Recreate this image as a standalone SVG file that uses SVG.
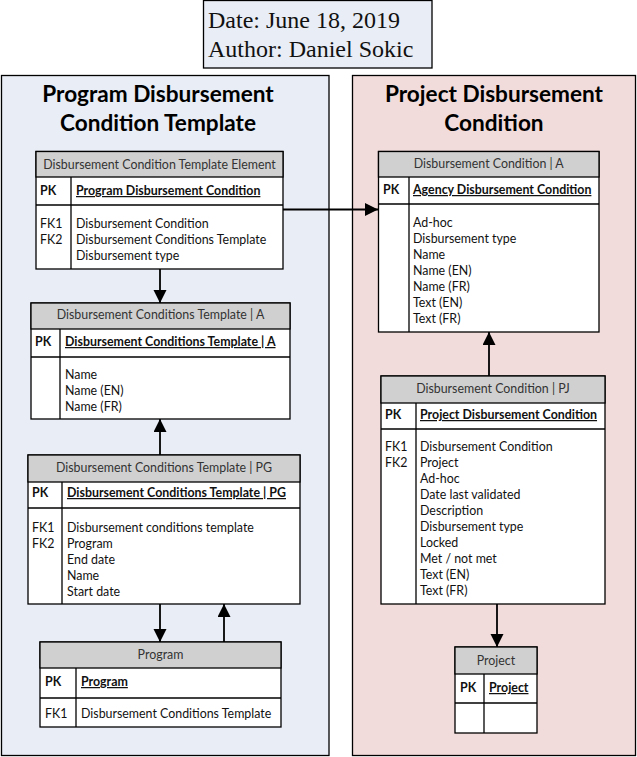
<svg xmlns="http://www.w3.org/2000/svg" width="637" height="757" viewBox="0 0 637 757">
<defs>
<style>
.panelL{fill:#e9edf5;stroke:#000;stroke-width:1.3}
.panelR{fill:#f2dcdb;stroke:#000;stroke-width:1.3}
.box{fill:#fff;stroke:#000;stroke-width:1.3}
.hdr{fill:#d0d0d0;stroke:#000;stroke-width:1.3}
.ln{stroke:#000;stroke-width:1.3;fill:none}
.t{font-family:"Lato","Liberation Sans",sans-serif;font-size:12.4px;fill:#111}
.h{text-anchor:middle;fill:#333}
.b{font-weight:bold}
.u{text-decoration:underline}
.title{font-family:"Lato","Liberation Sans",sans-serif;font-size:22.6px;font-weight:bold;text-anchor:middle;fill:#000}
.meta{font-family:"Liberation Serif","Times New Roman",serif;font-size:24px;fill:#111}
.conn{stroke:#000;stroke-width:1.8;fill:none;marker-end:url(#ah)}
</style>
<marker id="ah" markerUnits="userSpaceOnUse" markerWidth="14" markerHeight="14" refX="13" refY="6.5" orient="auto">
<path d="M0,0 L13,6.5 L0,13 z" fill="#000"/>
</marker>
</defs>

<g id="meta">
<rect x="203.5" y="0.5" width="228.5" height="67.5" fill="#e9edf5" stroke="#000" stroke-width="1.3"/>
<text class="meta" x="208" y="28">Date: June 18, 2019</text>
<text class="meta" x="208" y="57">Author: Daniel Sokic</text>
</g>

<g id="panel-program">
<rect class="panelL" x="1.5" y="75.5" width="327.5" height="680"/>
<text class="title" x="158" y="102">Program Disbursement</text>
<text class="title" x="158" y="131">Condition Template</text>
</g>

<g id="panel-project">
<rect class="panelR" x="352.5" y="75.5" width="283" height="680"/>
<text class="title" x="494" y="102">Project Disbursement</text>
<text class="title" x="494" y="131">Condition</text>
</g>

<g id="connectors">
<line class="conn" x1="160" y1="269" x2="160" y2="303"/>
<line class="conn" x1="160" y1="455" x2="160" y2="419"/>
<line class="conn" x1="160" y1="604" x2="160" y2="642"/>
<line class="conn" x1="224" y1="642" x2="224" y2="604"/>
<line class="conn" x1="283" y1="209.5" x2="378" y2="209.5"/>
<line class="conn" x1="489" y1="376" x2="489" y2="332"/>
<line class="conn" x1="497" y1="604" x2="497" y2="647"/>
</g>

<g id="e-dcte">
<rect class="box" x="36" y="151.5" width="247" height="117.5"/>
<rect class="hdr" x="36" y="151.5" width="247" height="25.5"/>
<line class="ln" x1="36" y1="205" x2="283" y2="205"/>
<line class="ln" x1="71" y1="177" x2="71" y2="269"/>
<text class="t h" x="159.5" y="169">Disbursement Condition Template Element</text>
<text class="t b" x="40" y="195">PK</text>
<text class="t b u" x="76" y="195">Program Disbursement Condition</text>
<text class="t" x="40" y="228">FK1</text>
<text class="t" x="40" y="244">FK2</text>
<text class="t" x="76" y="228">Disbursement Condition</text>
<text class="t" x="76" y="244">Disbursement Conditions Template</text>
<text class="t" x="76" y="260">Disbursement type</text>
</g>

<g id="e-dct-a">
<rect class="box" x="31" y="303" width="259" height="116"/>
<rect class="hdr" x="31" y="303" width="259" height="26"/>
<line class="ln" x1="31" y1="357" x2="290" y2="357"/>
<line class="ln" x1="60" y1="329" x2="60" y2="419"/>
<text class="t h" x="160.5" y="319">Disbursement Conditions Template | A</text>
<text class="t b" x="35" y="346">PK</text>
<text class="t b u" x="65" y="346">Disbursement Conditions Template | A</text>
<text class="t" x="65" y="379">Name</text>
<text class="t" x="65" y="395">Name (EN)</text>
<text class="t" x="65" y="411">Name (FR)</text>
</g>

<g id="e-dct-pg">
<rect class="box" x="28" y="455" width="272" height="149"/>
<rect class="hdr" x="28" y="455" width="272" height="27"/>
<line class="ln" x1="28" y1="508" x2="300" y2="508"/>
<line class="ln" x1="62" y1="482" x2="62" y2="604"/>
<text class="t h" x="164" y="472">Disbursement Conditions Template | PG</text>
<text class="t b" x="32" y="497">PK</text>
<text class="t b u" x="67" y="497">Disbursement Conditions Template | PG</text>
<text class="t" x="32" y="532">FK1</text>
<text class="t" x="32" y="548">FK2</text>
<text class="t" x="67" y="532">Disbursement conditions template</text>
<text class="t" x="67" y="548">Program</text>
<text class="t" x="67" y="564">End date</text>
<text class="t" x="67" y="580">Name</text>
<text class="t" x="67" y="596">Start date</text>
</g>

<g id="e-program">
<rect class="box" x="40" y="642" width="241" height="85"/>
<rect class="hdr" x="40" y="642" width="241" height="26"/>
<line class="ln" x1="40" y1="698" x2="281" y2="698"/>
<line class="ln" x1="76" y1="668" x2="76" y2="727"/>
<text class="t h" x="160.5" y="659">Program</text>
<text class="t b" x="45" y="686">PK</text>
<text class="t b u" x="81" y="686">Program</text>
<text class="t" x="45" y="718">FK1</text>
<text class="t" x="81" y="718">Disbursement Conditions Template</text>
</g>

<g id="e-dc-a">
<rect class="box" x="378.5" y="151.5" width="220.5" height="180.5"/>
<rect class="hdr" x="378.5" y="151.5" width="220.5" height="25.5"/>
<line class="ln" x1="378.5" y1="204" x2="599" y2="204"/>
<line class="ln" x1="409" y1="177" x2="409" y2="332"/>
<text class="t h" x="488.75" y="168">Disbursement Condition | A</text>
<text class="t b" x="383" y="194">PK</text>
<text class="t b u" x="413" y="194">Agency Disbursement Condition</text>
<text class="t" x="413" y="227">Ad-hoc</text>
<text class="t" x="413" y="243">Disbursement type</text>
<text class="t" x="413" y="259">Name</text>
<text class="t" x="413" y="275">Name (EN)</text>
<text class="t" x="413" y="291">Name (FR)</text>
<text class="t" x="413" y="307">Text (EN)</text>
<text class="t" x="413" y="323">Text (FR)</text>
</g>

<g id="e-dc-pj">
<rect class="box" x="381" y="376" width="224" height="228"/>
<rect class="hdr" x="381" y="376" width="224" height="27"/>
<line class="ln" x1="381" y1="429" x2="605" y2="429"/>
<line class="ln" x1="416" y1="403" x2="416" y2="604"/>
<text class="t h" x="493" y="393">Disbursement Condition | PJ</text>
<text class="t b" x="385" y="419">PK</text>
<text class="t b u" x="420" y="419">Project Disbursement Condition</text>
<text class="t" x="385" y="451">FK1</text>
<text class="t" x="385" y="467">FK2</text>
<text class="t" x="420" y="451">Disbursement Condition</text>
<text class="t" x="420" y="467">Project</text>
<text class="t" x="420" y="483">Ad-hoc</text>
<text class="t" x="420" y="499">Date last validated</text>
<text class="t" x="420" y="515">Description</text>
<text class="t" x="420" y="531">Disbursement type</text>
<text class="t" x="420" y="547">Locked</text>
<text class="t" x="420" y="563">Met / not met</text>
<text class="t" x="420" y="579">Text (EN)</text>
<text class="t" x="420" y="595">Text (FR)</text>
</g>

<g id="e-project">
<rect class="box" x="455" y="647" width="82" height="86"/>
<rect class="hdr" x="455" y="647" width="82" height="27"/>
<line class="ln" x1="455" y1="703" x2="537" y2="703"/>
<line class="ln" x1="484" y1="674" x2="484" y2="733"/>
<text class="t h" x="496" y="665">Project</text>
<text class="t b" x="460" y="692">PK</text>
<text class="t b u" x="489" y="692">Project</text>
</g>
</svg>
